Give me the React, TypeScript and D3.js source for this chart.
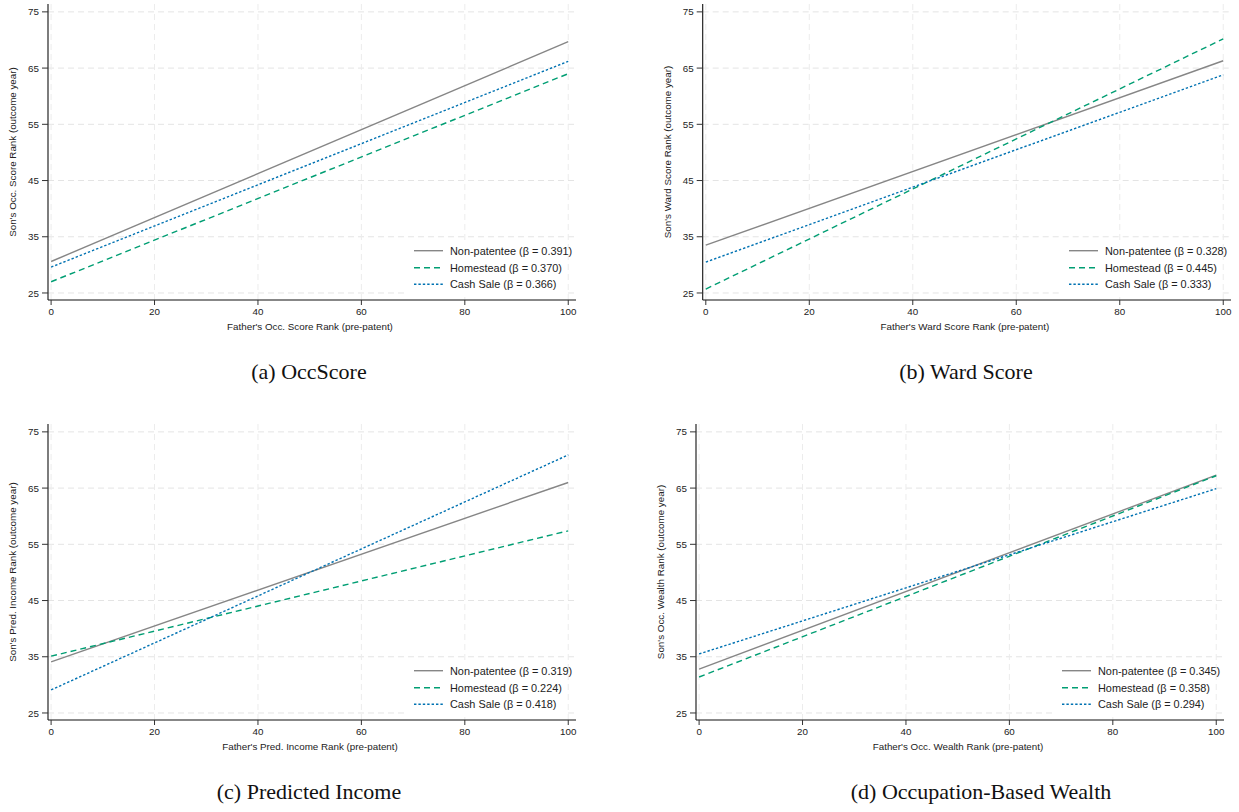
import * as d3 from 'd3'

// series + panel data
const seriesNames = ['Non-patentee', 'Homestead', 'Cash Sale']
const seriesColors = ['#868686', '#009e73', '#0072b2']
const seriesDash = ['none', '6 4', '2.4 2']

const captions = ['(a) OccScore', '(b) Ward Score', '(c) Predicted Income', '(d) Occupation-Based Wealth']
const xTitles = [
  "Father's Occ. Score Rank (pre-patent)",
  "Father's Ward Score Rank (pre-patent)",
  "Father's Pred. Income Rank (pre-patent)",
  "Father's Occ. Wealth Rank (pre-patent)",
]
const yTitles = [
  "Son's Occ. Score Rank (outcome year)",
  "Son's Ward Score Rank (outcome year)",
  "Son's Pred. Income Rank (outcome year)",
  "Son's Occ. Wealth Rank (outcome year)",
]
const betas = [
  [0.391, 0.370, 0.366],
  [0.328, 0.445, 0.333],
  [0.319, 0.224, 0.418],
  [0.345, 0.358, 0.294],
]
// fitted value at father rank 0 and 100
const fitAt0 = [
  [30.6, 27.0, 29.6],
  [33.5, 25.7, 30.5],
  [34.1, 35.1, 29.1],
  [32.8, 31.4, 35.5],
]
const fitAt100 = [
  [69.7, 64.0, 66.2],
  [66.3, 70.2, 63.8],
  [66.0, 57.4, 70.9],
  [67.3, 67.2, 64.9],
]
const xTicks = [0, 20, 40, 60, 80, 100]
const yTicks = [25, 35, 45, 55, 65, 75]

// panel frames (layout)
const frames = [
  { left: 48, right: 576, top: 4, bottom: 300, capX: 309 },
  { left: 702.7, right: 1231, top: 4, bottom: 300, capX: 966 },
  { left: 48, right: 576, top: 424, bottom: 720, capX: 309 },
  { left: 696, right: 1224, top: 424, bottom: 720, capX: 981 },
]

const sans = 'Liberation Sans, Arial, Helvetica, sans-serif'
const serif = 'Liberation Serif, Times New Roman, serif'

function Panel({ i }: { i: number }) {
  const f = frames[i]
  const x = d3.scaleLinear().domain([-0.6, 101.5]).range([f.left, f.right])
  const y = d3.scaleLinear().domain([23.75, 76.4]).range([f.bottom, f.top])
  const line = d3.line<[number, number]>().x(d => x(d[0])).y(d => y(d[1]))
  const legX = f.right - 162
  const legRows = [-49.3, -32.3, -15.7]

  return (
    <g>
      {/* grid */}
      {yTicks.map(t => (
        <line key={'gy' + t} x1={f.left} x2={f.right} y1={y(t)} y2={y(t)}
          stroke="#e4e4e4" strokeWidth={1} strokeDasharray="6 4" />
      ))}
      {xTicks.map(t => (
        <line key={'gx' + t} x1={x(t)} x2={x(t)} y1={f.top} y2={f.bottom}
          stroke="#ececec" strokeWidth={1} strokeDasharray="6 4" />
      ))}

      {/* fitted lines */}
      {seriesNames.map((s, k) => (
        <path key={s} d={line([[0, fitAt0[i][k]], [100, fitAt100[i][k]]]) || ''}
          fill="none" stroke={seriesColors[k]} strokeWidth={1.4}
          strokeDasharray={seriesDash[k]} />
      ))}

      {/* legend */}
      <rect x={legX - 7} y={f.bottom - 58} width={160} height={55} fill="#fff" />
      {seriesNames.map((s, k) => (
        <g key={'lg' + s}>
          <line x1={legX} x2={legX + 29} y1={f.bottom + legRows[k]} y2={f.bottom + legRows[k]}
            stroke={seriesColors[k]} strokeWidth={1.4} strokeDasharray={seriesDash[k]} />
          <text x={legX + 36} y={f.bottom + legRows[k] + 3.8} fontSize={10.9} fontFamily={sans} fill="#222">
            {`${s} (β = ${betas[i][k].toFixed(3)})`}
          </text>
        </g>
      ))}

      {/* axes */}
      <line x1={f.left} x2={f.left} y1={f.top} y2={f.bottom} stroke="#111" strokeWidth={1.1} />
      <line x1={f.left} x2={f.right} y1={f.bottom} y2={f.bottom} stroke="#111" strokeWidth={1.1} />
      {yTicks.map(t => (
        <g key={'ty' + t}>
          <line x1={f.left - 6} x2={f.left} y1={y(t)} y2={y(t)} stroke="#333" />
          <text x={f.left - 9} y={y(t) + 3.6} textAnchor="end" fontSize={9.8} fontFamily={sans} fill="#222">{t}</text>
        </g>
      ))}
      {xTicks.map(t => (
        <g key={'tx' + t}>
          <line x1={x(t)} x2={x(t)} y1={f.bottom} y2={f.bottom + 5} stroke="#333" />
          <text x={x(t)} y={f.bottom + 14.5} textAnchor="middle" fontSize={9.8} fontFamily={sans} fill="#222">{t}</text>
        </g>
      ))}
      <text x={(f.left + f.right) / 2 - 2} y={f.bottom + 30} textAnchor="middle" fontSize={9.8} fontFamily={sans} fill="#222">
        {xTitles[i]}
      </text>
      <text transform={`translate(${f.left - 32},${(f.top + f.bottom) / 2}) rotate(-90)`} textAnchor="middle"
        fontSize={9.8} fontFamily={sans} fill="#222">
        {yTitles[i]}
      </text>

      {/* caption */}
      <text x={f.capX} y={f.bottom + 79} textAnchor="middle" fontSize={22} fontFamily={serif} fill="#111">
        {captions[i]}
      </text>
    </g>
  )
}

export default function App() {
  return (
    <svg width={1239} height={812} style={{ position: 'absolute', left: 0, top: 0, background: '#fff' }}>
      <rect width={1239} height={812} fill="#fff" />
      {captions.map((c, i) => <Panel key={c} i={i} />)}
    </svg>
  )
}
